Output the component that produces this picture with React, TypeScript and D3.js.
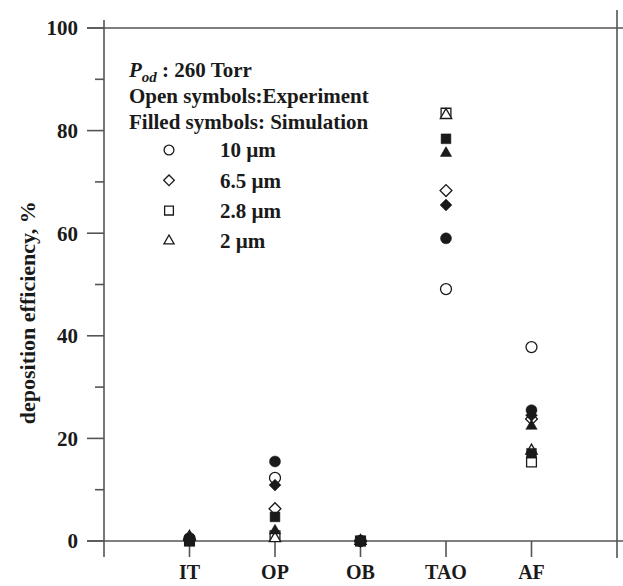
import React from 'react';
import * as d3 from 'd3';

// categories on the x axis
const categories = ['IT', 'OP', 'OB', 'TAO', 'AF'];
const particleSizes = ['10 \u00b5m', '6.5 \u00b5m', '2.8 \u00b5m', '2 \u00b5m'];
const yTicks = [0, 20, 40, 60, 80, 100];
const yMinorTicks = [10, 30, 50, 70, 90];

// open symbols: experiment
const exp10 = [0.5, 12.3, 0, 49.1, 37.8];
const exp65 = [0.3, 6.3, 0, 68.3, 23.8];
const exp28 = [0, 1.0, 0, 83.4, 15.4];
const exp2 = [0.8, 0.5, 0, 83.0, 17.6];

// filled symbols: simulation
const sim10 = [0.4, 15.5, 0, 59.0, 25.5];
const sim65 = [0.2, 10.9, 0, 65.5, 24.5];
const sim28 = [0, 4.7, 0, 78.4, 17.1];
const sim2 = [0.6, 2.0, 0, 75.6, 22.4];

const W = 623;
const H = 586;
const margin = { left: 104, right: 6, top: 28, bottom: 45 };
const axisColor = '#555';
const ink = '#1a1a1a';
const font = '"Liberation Serif", "Times New Roman", serif';

const shapes = ['circle', 'diamond', 'square', 'triangle'];

const symbolPath = (shape: string, k = 1) => {
  if (shape === 'circle') return d3.symbol().type(d3.symbolCircle).size(95 * k)();
  if (shape === 'square') return d3.symbol().type(d3.symbolSquare).size(96 * k)();
  if (shape === 'diamond') return d3.symbol().type(d3.symbolSquare).size(70 * k)();
  return d3.symbol().type(d3.symbolTriangle).size(56 * k)();
};

const Marker = ({ shape, x, y, filled, k = 1 }: { shape: string; x: number; y: number; filled: boolean; k?: number }) => (
  <path
    d={symbolPath(shape, k) || ''}
    transform={`translate(${x},${y})${shape === 'diamond' ? ' rotate(45)' : ''}`}
    fill={filled ? ink : '#fff'}
    stroke={ink}
    strokeWidth={filled ? 0.5 : 1.3}
  />
);

export default function App() {
  const x = d3.scaleLinear().domain([0, categories.length + 1]).range([margin.left, W - margin.right]);
  const y = d3.scaleLinear().domain([0, 100]).range([H - margin.bottom, margin.top]);

  const expSeries = [exp10, exp65, exp28, exp2];
  const simSeries = [sim10, sim65, sim28, sim2];

  const x0 = x(0);
  const x1 = x(categories.length + 1);
  const yb = y(0);
  const yt = y(100);

  return (
    <svg width={W} height={H} style={{ position: 'absolute', left: 0, top: 0 }} fontFamily={font}>
      {/* frame */}
      <g stroke={axisColor} strokeWidth={1.6}>
        <line x1={x0} x2={x0} y1={yt - 8} y2={yb + 16} />
        <line x1={x1} x2={x1} y1={yt - 18} y2={yb + 17} />
        <line x1={x0 - 17} x2={W} y1={yb} y2={yb} />
        <line x1={x0 - 17} x2={W} y1={yt} y2={yt} />
        {yTicks.map((t) => (
          <line key={t} x1={x0 - 17} x2={x0} y1={y(t)} y2={y(t)} />
        ))}
        {yMinorTicks.map((t) => (
          <line key={t} x1={x0 - 9} x2={x0} y1={y(t)} y2={y(t)} />
        ))}
        {categories.map((c, i) => (
          <line key={c} x1={x(i + 1)} x2={x(i + 1)} y1={yb} y2={yb + 16} />
        ))}
      </g>

      {/* tick labels */}
      <g fontWeight="bold" fontSize={21} fill={ink}>
        {yTicks.map((t) => (
          <text key={t} x={x0 - 26} y={y(t)} dy="0.35em" textAnchor="end">
            {t}
          </text>
        ))}
        {categories.map((c, i) => (
          <text key={c} x={x(i + 1)} y={yb + 38} fontSize={20} textAnchor="middle">
            {c}
          </text>
        ))}
      </g>

      <text
        transform={`translate(27,${y(44.5)}) rotate(-90)`}
        textAnchor="middle"
        dy="0.35em"
        fontWeight="bold"
        fontSize={22}
        fill={ink}
      >
        deposition efficiency, %
      </text>

      {/* legend */}
      <g fontWeight="bold" fontSize={21} fill={ink}>
        <text x={129} y={77}>
          <tspan fontStyle="italic">P</tspan>
          <tspan fontStyle="italic" fontSize={15} dy={5}>od</tspan>
          <tspan dy={-5}> : 260 Torr</tspan>
        </text>
        <text x={129} y={103}>Open symbols:Experiment</text>
        <text x={129} y={129}>Filled symbols: Simulation</text>
        {particleSizes.map((s, i) => (
          <g key={s}>
            <Marker shape={shapes[i]} x={169} y={150 + i * 30.3} filled={false} k={0.8} />
            <text x={220} y={150 + i * 30.3} dy="0.35em">
              {s}
            </text>
          </g>
        ))}
      </g>

      {/* data: open first, filled on top */}
      {expSeries.map((vals, si) =>
        vals.map((v, ci) => (
          <Marker key={`e${si}-${ci}`} shape={shapes[si]} x={x(ci + 1)} y={y(v)} filled={false} />
        ))
      )}
      {simSeries.map((vals, si) =>
        vals.map((v, ci) => (
          <Marker key={`s${si}-${ci}`} shape={shapes[si]} x={x(ci + 1)} y={y(v)} filled />
        ))
      )}
    </svg>
  );
}
